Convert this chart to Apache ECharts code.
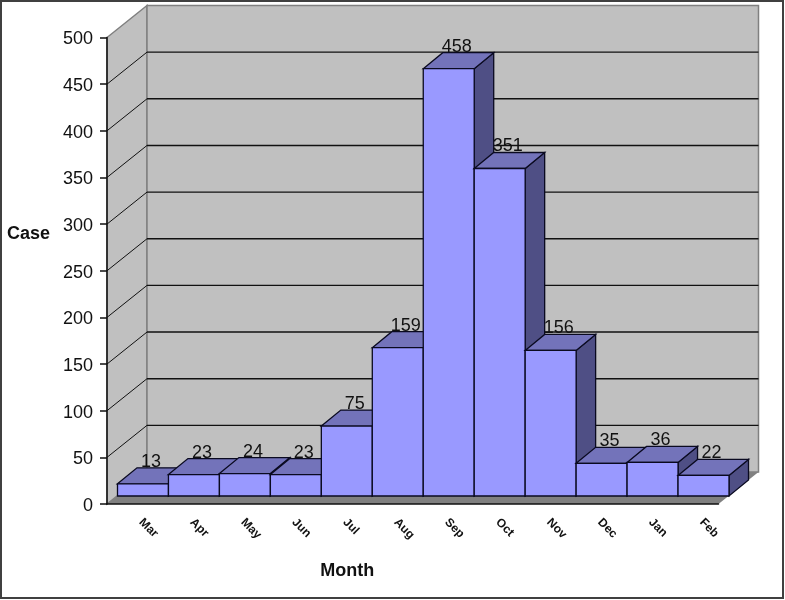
<!DOCTYPE html>
<html>
	<head>
		<meta charset="UTF-8">
		<title>Case by month</title>
		<style>
			html, body { margin: 0; padding: 0; background: #fff; }
		</style>
	</head>
	<body>
		<div id="main" style="width:785px;height:600px"></div>
		<script src="https://cdn.jsdelivr.net/npm/echarts@6/dist/echarts.min.js"></script>
		<script>
			var months = ['Mar', 'Apr', 'May', 'Jun', 'Jul', 'Aug', 'Sep', 'Oct', 'Nov', 'Dec', 'Jan', 'Feb'];
			var cases = [13, 23, 24, 23, 75, 159, 458, 351, 156, 35, 36, 22];
			var gridValues = [50, 100, 150, 200, 250, 300, 350, 400, 450]; // no line at the top of the wall

			// depth of the fake 3d box, in pixels
			var depthX = 40;
			var depthY = 32;
			var barX = 10.5, barY = 8; // bar front sits a quarter of the way in
			var barDepthX = 19.5, barDepthY = 16;
			var font = '"Liberation Sans", Arial, sans-serif';

			function poly(points, fill, stroke, width) {
				return {
					type: 'polygon',
					shape: { points: points },
					style: { fill: fill, stroke: stroke || null, lineWidth: width || 0 }
				};
			}

			function line(x1, y1, x2, y2, color, width) {
				return {
					type: 'line',
					shape: { x1: x1, y1: y1, x2: x2, y2: y2 },
					style: { stroke: color, lineWidth: width, fill: null }
				};
			}

			function renderWalls(params, api) {
				var band = api.size([1, 0])[0];
				var left = api.coord([0, 0])[0] - band / 2;
				var right = left + band * months.length;
				var bottom = api.coord([0, 0])[1];
				var top = api.coord([0, 500])[1];
				return {
					type: 'group',
					children: [
						poly([[left, bottom], [left + depthX, bottom - depthY], [left + depthX, top - depthY], [left, top]], '#c0c0c0', '#808080', 1.5),
						poly([[left + depthX, bottom - depthY], [right + depthX, bottom - depthY], [right + depthX, top - depthY], [left + depthX, top - depthY]], '#c0c0c0', '#808080', 1.5),
						poly([[left, bottom], [right, bottom], [right + depthX, bottom - depthY], [left + depthX, bottom - depthY]], '#808080')
					]
				};
			}

			function renderGrid(params, api) {
				var band = api.size([1, 0])[0];
				var left = api.coord([0, 0])[0] - band / 2;
				var right = left + band * months.length;
				var y = api.coord([0, api.value(1)])[1];
				return {
					type: 'group',
					children: [
						line(left, y, left + depthX, y - depthY, '#111', 1),
						line(left + depthX, y - depthY, right + depthX, y - depthY, '#111', 1.4)
					]
				};
			}

			function renderBar(params, api) {
				var band = api.size([1, 0])[0];
				var p = api.coord([api.value(0), api.value(1)]);
				var base = api.coord([api.value(0), 0]);
				var x1 = p[0] - band / 2 + barX;
				var x2 = x1 + band;
				var yTop = p[1] - barY;
				var yBot = base[1] - barY;
				var dx = barDepthX, dy = barDepthY;
				var edge = '#0a0a20';
				return {
					type: 'group',
					children: [
						poly([[x2, yTop], [x2 + dx, yTop - dy], [x2 + dx, yBot - dy], [x2, yBot]], '#4f4f85', edge, 1.3),
						poly([[x1, yTop], [x1 + dx, yTop - dy], [x2 + dx, yTop - dy], [x2, yTop]], '#7373ba', edge, 1.3),
						poly([[x1, yTop], [x2, yTop], [x2, yBot], [x1, yBot]], '#9999ff', edge, 1.3)
					]
				};
			}

			function renderLabel(params, api) {
				var p = api.coord([api.value(0), api.value(1)]);
				return {
					type: 'text',
					style: {
						text: String(api.value(1)),
						x: p[0] + 18.5,
						y: p[1] - barY - barDepthY + 3,
						align: 'center',
						verticalAlign: 'bottom',
						font: '18px ' + font,
						fill: '#111'
					}
				};
			}

			var barData = cases.map(function(v, i) { return [i, v]; });
			var gridData = gridValues.map(function(v) { return [0, v]; });

			var chart = echarts.init(document.getElementById('main'));
			chart.setOption({
				animation: false,
				backgroundColor: '#fff',
				graphic: [{
					type: 'rect',
					shape: { x: 1, y: 1, width: 782, height: 597 },
					style: { fill: null, stroke: '#404040', lineWidth: 2 },
					z: 10
				}],
				grid: { left: 107, right: 66.5, top: 37.5, bottom: 96, outerBoundsMode: 'none' },
				xAxis: {
					type: 'category',
					data: months,
					name: 'Month',
					nameLocation: 'middle',
					nameGap: 58,
					nameTextStyle: { fontFamily: font, fontSize: 18, fontWeight: 'bold', color: '#111', padding: [0, 131, 0, 0] },
					z: 5,
					axisLine: { lineStyle: { color: '#111', width: 1.5 } },
					axisTick: { length: 7, alignWithLabel: false, lineStyle: { color: '#111', width: 1.5 } },
					axisLabel: { interval: 0, rotate: -45, margin: 8, padding: [0, 0, 0, 12], fontFamily: font, fontSize: 12, fontWeight: 'bold', color: '#111' },
					splitLine: { show: false }
				},
				yAxis: {
					type: 'value',
					min: 0,
					max: 500,
					interval: 50,
					name: 'Case',
					nameLocation: 'middle',
					nameRotate: 0,
					nameGap: 57,
					nameTextStyle: { fontFamily: font, fontSize: 18, fontWeight: 'bold', color: '#111', verticalAlign: 'bottom', padding: [0, 0, 28, 0] },
					z: 5,
					axisLine: { show: true, lineStyle: { color: '#111', width: 1.5 } },
					axisTick: { show: true, length: 7, lineStyle: { color: '#111', width: 1.5 } },
					axisLabel: { margin: 14, verticalAlign: 'top', padding: [-7, 0, 0, 0], fontFamily: font, fontSize: 18, color: '#111' },
					splitLine: { show: false }
				},
				series: [
					{ type: 'custom', z: 1, data: [[0, 0]], renderItem: renderWalls, silent: true, clip: false },
					{ type: 'custom', z: 2, data: gridData, renderItem: renderGrid, silent: true, clip: false },
					{ type: 'custom', z: 3, data: barData, renderItem: renderBar, silent: true, clip: false },
					{ type: 'custom', z: 4, data: barData, renderItem: renderLabel, silent: true, clip: false }
				]
			});
		</script>
	</body>
</html>
